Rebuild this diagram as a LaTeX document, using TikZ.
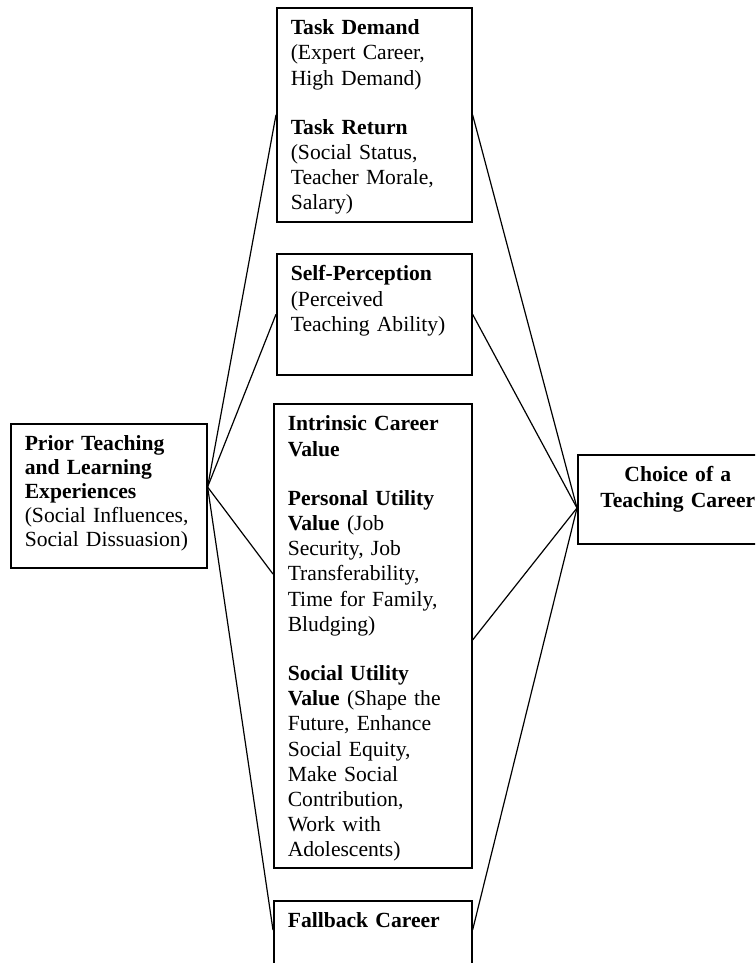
\documentclass[tikz,border=0pt]{standalone}
\usepackage{fontspec}
\setmainfont{Liberation Serif}
\usetikzlibrary{positioning, calc}

\begin{document}
\begin{tikzpicture}[x=0.5pt, y=-0.5pt,
    factor/.style={draw, line width=0.8pt, anchor=north west, inner sep=7pt,
        text height=6.5pt, align=left, font=\fontsize{10.8}{12.6}\selectfont},
    link/.style={line width=0.6pt}]
    \useasboundingbox (0,0) rectangle (755,963);
    \clip (0,0) rectangle (755,963);

    % factor boxes in the middle column
    \node[factor, text width=83.5pt, text depth=86.5pt] (demand) at (276,7)
        {\textbf{Task Demand}\\(Expert Career,\\High Demand)\\[12pt]\textbf{Task Return}\\(Social Status,\\Teacher Morale,\\Salary)};
    \node[factor, text width=83.5pt, text depth=40pt] (selfp) at (276,253)
        {\textbf{Self-Perception}\\(Perceived\\Teaching Ability)};
    \node[factor, text width=85pt, text depth=211.5pt] (value) at (273,403)
        {\textbf{Intrinsic Career}\\\textbf{Value}\\[12pt]\textbf{Personal Utility}\\\textbf{Value} (Job\\Security, Job\\Transferability,\\Time for Family,\\Bludging)\\[12pt]\textbf{Social Utility}\\\textbf{Value} (Shape the\\Future, Enhance\\Social Equity,\\Make Social\\Contribution,\\Work with\\Adolescents)};
    \node[factor, text width=85pt, text depth=40pt] (fallback) at (273,900)
        {\textbf{Fallback Career}};

    % outer boxes
    \node[factor, text width=84pt, text depth=51.5pt, font=\fontsize{10.8}{12}\selectfont] (prior) at (10,423)
        {\textbf{Prior Teaching}\\\textbf{and Learning}\\\textbf{Experiences}\\(Social Influences,\\Social Dissuasion)};
    \node[factor, text width=86pt, text depth=24pt, align=center] (choice) at (577,454)
        {\textbf{Choice of a}\\\textbf{Teaching Career}};

    \coordinate (pin) at ($(prior.north east)+(0,64)$);
    \coordinate (pout) at ($(choice.north west)+(0,54)$);

    % links into and out of the factors
    \draw[link] (pin) -- (demand.west);
    \draw[link] (pin) -- (selfp.west);
    \draw[link] (pin) -- ($(value.north west)+(0,171)$);
    \draw[link] (pin) -- ($(fallback.north west)+(0,30)$);
    \draw[link] (demand.east) -- (pout);
    \draw[link] (selfp.east) -- (pout);
    \draw[link] ($(value.north east)+(0,237)$) -- (pout);
    \draw[link] ($(fallback.north east)+(0,30)$) -- (pout);
\end{tikzpicture}
\end{document}
